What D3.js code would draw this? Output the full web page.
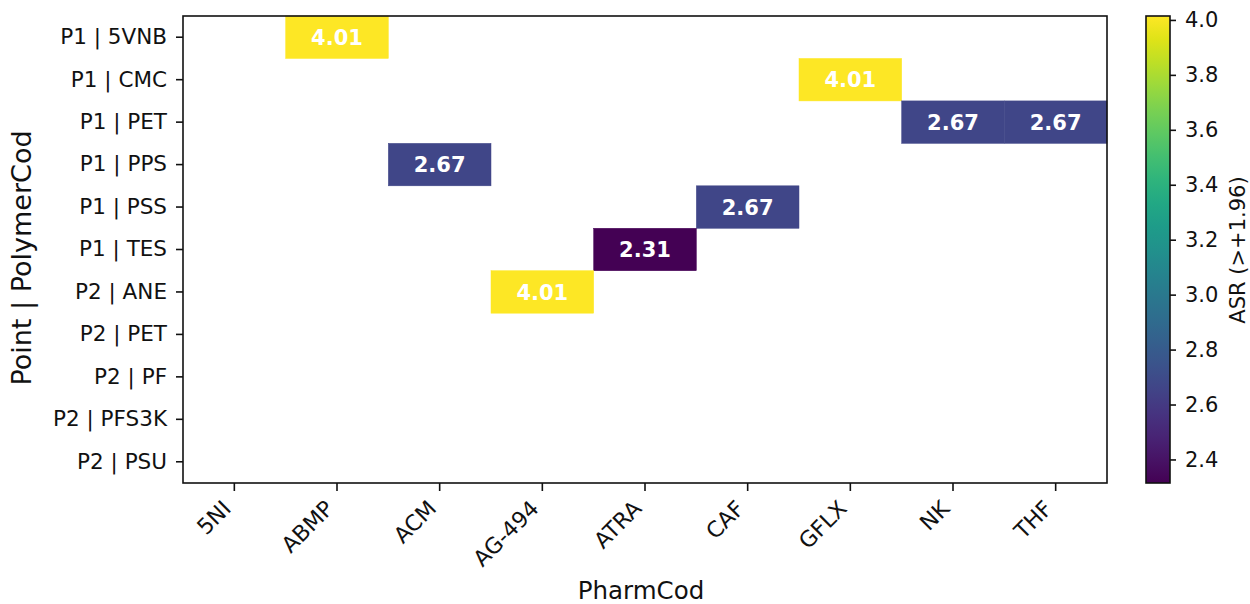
<!DOCTYPE html>
<html lang="en">
<head>
<meta charset="UTF-8">
<title>heatmap</title>
<script src="https://cdn.jsdelivr.net/npm/d3@7"></script>
<style>
  body { margin:0; background:#fff; }
  text { font-family:"DejaVu Sans", sans-serif; fill:#111; }
</style>
</head>
<body>
<svg width="1250" height="604"></svg>
<script>
// data
var pharms = ["5NI","ABMP","ACM","AG-494","ATRA","CAF","GFLX","NK","THF"];
var points = ["P1 | 5VNB","P1 | CMC","P1 | PET","P1 | PPS","P1 | PSS","P1 | TES",
              "P2 | ANE","P2 | PET","P2 | PF","P2 | PFS3K","P2 | PSU"];
var cellRow = ["P1 | 5VNB","P1 | CMC","P1 | PET","P1 | PET","P1 | PPS","P1 | PSS","P1 | TES","P2 | ANE"];
var cellCol = ["ABMP","GFLX","NK","THF","ACM","CAF","ATRA","AG-494"];
var cellVal = [4.01,4.01,2.67,2.67,2.67,2.67,2.31,4.01];
var cbTicks = [2.4,2.6,2.8,3.0,3.2,3.4,3.6,3.8,4.0];

var svg = d3.select('svg'),
    margin = {left:183, top:16, right:143, bottom:121},
    width = 1250 - margin.left - margin.right,
    height = 604 - margin.top - margin.bottom,
    g = svg.append('g').attr('transform','translate('+margin.left+','+margin.top+')');

var x = d3.scaleBand().domain(pharms).range([0,width]);
var y = d3.scaleBand().domain(points).range([0,height]);
var vmin = 2.3143, vmax = 4.0143;
var color = d3.scaleSequential(d3.interpolateViridis).domain([vmin,vmax]);

var cells = cellVal.map(function(v,i){ return {r:cellRow[i], c:cellCol[i], v:v}; });

// cells
g.selectAll('rect.cell').data(cells).enter().append('rect')
  .attr('class','cell')
  .attr('x',function(d){return x(d.c);})
  .attr('y',function(d){return y(d.r);})
  .attr('width',x.bandwidth())
  .attr('height',y.bandwidth())
  .attr('fill',function(d){return color(d.v);})
  .attr('stroke',function(d){return color(d.v);})
  .attr('stroke-width',0.5);

g.selectAll('text.val').data(cells).enter().append('text')
  .attr('x',function(d){return x(d.c)+x.bandwidth()/2;})
  .attr('y',function(d){return y(d.r)+y.bandwidth()/2;})
  .attr('dy','0.36em')
  .attr('text-anchor','middle')
  .style('fill','#fff')
  .style('font-weight','bold')
  .style('font-size','21px')
  .text(function(d){return d.v.toFixed(2);});

// frame
g.append('rect').attr('width',width).attr('height',height)
  .attr('fill','none').attr('stroke','#111').attr('stroke-width',1.6);

// axes
var xa = g.append('g').attr('transform','translate(0,'+height+')')
  .call(d3.axisBottom(x).tickSize(8).tickPadding(4));
xa.select('.domain').remove();
xa.selectAll('line').attr('stroke','#111').attr('stroke-width',1.6);
xa.selectAll('text')
  .style('font-size','22px')
  .attr('text-anchor','end')
  .attr('dy','0.35em')
  .attr('transform','translate(-16,13) rotate(-45)');

var ya = g.append('g').call(d3.axisLeft(y).tickSize(7).tickPadding(9));
ya.select('.domain').remove();
ya.selectAll('line').attr('stroke','#111').attr('stroke-width',1.6);
ya.selectAll('text').style('font-size','21.5px');

svg.append('text')
  .attr('x',641).attr('y',599)
  .attr('text-anchor','middle').style('font-size','24.5px')
  .text('PharmCod');

svg.append('text')
  .attr('transform','translate(31,258) rotate(-90)')
  .attr('text-anchor','middle').style('font-size','27px')
  .text('Point | PolymerCod');

// colorbar
var cbX = 1146, cbW = 24;
var cy = d3.scaleLinear().domain([vmin,vmax]).range([margin.top+height, margin.top]);
var defs = svg.append('defs');
var grad = defs.append('linearGradient').attr('id','vir')
  .attr('x1','0').attr('y1','1').attr('x2','0').attr('y2','0');
d3.range(0,1.0001,0.05).forEach(function(t){
  grad.append('stop').attr('offset',t).attr('stop-color',d3.interpolateViridis(t));
});
svg.append('rect').attr('x',cbX).attr('y',margin.top).attr('width',cbW).attr('height',height)
  .attr('fill','url(#vir)').attr('stroke','#111').attr('stroke-width',1.6);

var ca = svg.append('g').attr('transform','translate('+(cbX+cbW)+',0)')
  .call(d3.axisRight(cy).tickValues(cbTicks).tickFormat(d3.format('.1f')).tickSize(6).tickPadding(9));
ca.select('.domain').remove();
ca.selectAll('line').attr('stroke','#111').attr('stroke-width',1.6);
ca.selectAll('text').style('font-size','21px');

svg.append('text')
  .attr('transform','translate(1245,250) rotate(-90)')
  .attr('text-anchor','middle').style('font-size','21px')
  .text('ASR (>+1.96)');
</script>
</body>
</html>
